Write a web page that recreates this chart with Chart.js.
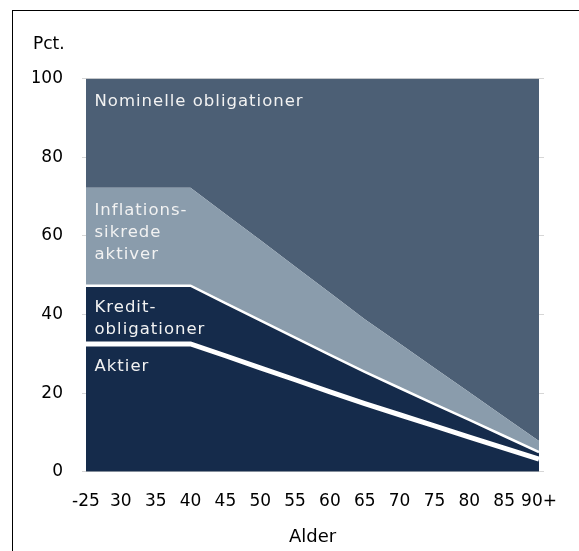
<!DOCTYPE html>
<html>
<head>
<meta charset="utf-8">
<script src="https://cdn.jsdelivr.net/npm/chart.js@4.4.1/dist/chart.umd.min.js"></script>
<style>
  html, body { margin: 0; padding: 0; background: #fff; }
  #frame { position: absolute; left: 12px; top: 10px; border-left: 1px solid #000; border-top: 1px solid #000; }
  canvas { display: block; }
</style>
</head>
<body>
<div id="frame"><canvas id="glidePath" width="566" height="541"></canvas></div>
<script>
const ages = ["-25", "30", "35", "40", "45", "50", "55", "60", "65", "70", "75", "80", "85", "90+"];

// Shares in pct. per age group (stacked from the bottom)
const aktier = [32.5, 32.5, 32.5, 32.5, 29.5, 26.4, 23.4, 20.3, 17.3, 14.5, 11.7, 8.8, 6.0, 3.2];
const kredit = [14.8, 14.8, 14.8, 14.8, 13.4, 12.1, 10.7, 9.4, 8.1, 6.8, 5.5, 4.4, 3.1, 1.8];
const inflation = [24.9, 24.9, 24.9, 24.9, 22.6, 20.4, 18.1, 15.8, 13.4, 11.3, 9.2, 7.0, 4.9, 2.8];
const nominelle = [27.8, 27.8, 27.8, 27.8, 34.5, 41.1, 47.8, 54.5, 61.2, 67.4, 73.6, 79.8, 86.0, 92.2];

const yTicks = [0, 20, 40, 60, 80, 100];

// text inside the areas: first baseline given in pct. on the y axis
const areaLabels = [
  { lines: ["Nominelle obligationer"], at: 92.9 },
  { lines: ["Inflations-", "sikrede", "aktiver"], at: 65.3 },
  { lines: ["Kredit-", "obligationer"], at: 40.6 },
  { lines: ["Aktier"], at: 25.6 }
];

const navy = "#152b4b";
const font = { family: "DejaVu Sans", size: 17 };

const labelPlugin = {
  id: "areaLabels",
  afterDatasetsDraw(chart) {
    const { ctx, scales } = chart;
    ctx.save();
    ctx.font = "16.5px 'DejaVu Sans'";
    ctx.letterSpacing = "1px";
    ctx.fillStyle = "#f2f2f2";
    ctx.textBaseline = "alphabetic";
    ctx.textAlign = "left";
    areaLabels.forEach(l => {
      const y0 = scales.y.getPixelForValue(l.at);
      l.lines.forEach((t, i) => ctx.fillText(t, scales.x.left + 8.5, y0 + i * 22.2));
    });
    ctx.restore();
  }
};

function area(label, data, color, fill, lineWidth) {
  return {
    label: label,
    data: data,
    backgroundColor: color,
    borderColor: "#ffffff",
    borderWidth: lineWidth,
    fill: fill,
    pointRadius: 0,
    tension: 0
  };
}

new Chart(document.getElementById("glidePath"), {
  type: "line",
  data: {
    labels: ages,
    datasets: [
      area("Aktier", aktier, navy, "origin", 5),
      area("Kreditobligationer", kredit, navy, "-1", 2.5),
      area("Inflationssikrede aktiver", inflation, "#8a9cac", "-1", 0),
      area("Nominelle obligationer", nominelle, "#4c5f75", "-1", 0)
    ]
  },
  options: {
    responsive: false,
    animation: false,
    layout: { padding: { left: 20, right: 35, top: 22, bottom: 4.3 } },
    plugins: {
      legend: { display: false },
      tooltip: { enabled: false },
      title: {
        display: true,
        text: "Pct.",
        align: "start",
        color: "#000",
        font: { family: "DejaVu Sans", size: 17, weight: "normal" },
        padding: { top: 1, bottom: 24 }
      }
    },
    scales: {
      x: {
        offset: false,
        grid: { display: false, drawTicks: true, tickLength: 4.7 },
        border: { display: false },
        ticks: { color: "#000", font: font, padding: 14.6, maxRotation: 0, autoSkip: false },
        title: { display: true, text: "Alder", color: "#000", font: { family: "DejaVu Sans", size: 18 }, padding: 0 }
      },
      y: {
        stacked: true,
        min: 0,
        max: 100,
        afterBuildTicks: s => { s.ticks = yTicks.map(v => ({ value: v })); },
        afterFit: s => { s.width = 53; },
        grid: { color: "#d6d6d6", tickLength: 4 },
        border: { display: false },
        ticks: { color: "#000", font: font, padding: 19 }
      },
      y2: {
        position: "right",
        min: 0,
        max: 100,
        afterBuildTicks: s => { s.ticks = yTicks.map(v => ({ value: v })); },
        grid: { color: "#d6d6d6", tickLength: 5, drawOnChartArea: false },
        border: { display: false },
        ticks: { display: false }
      }
    }
  },
  plugins: [labelPlugin]
});
</script>
</body>
</html>
